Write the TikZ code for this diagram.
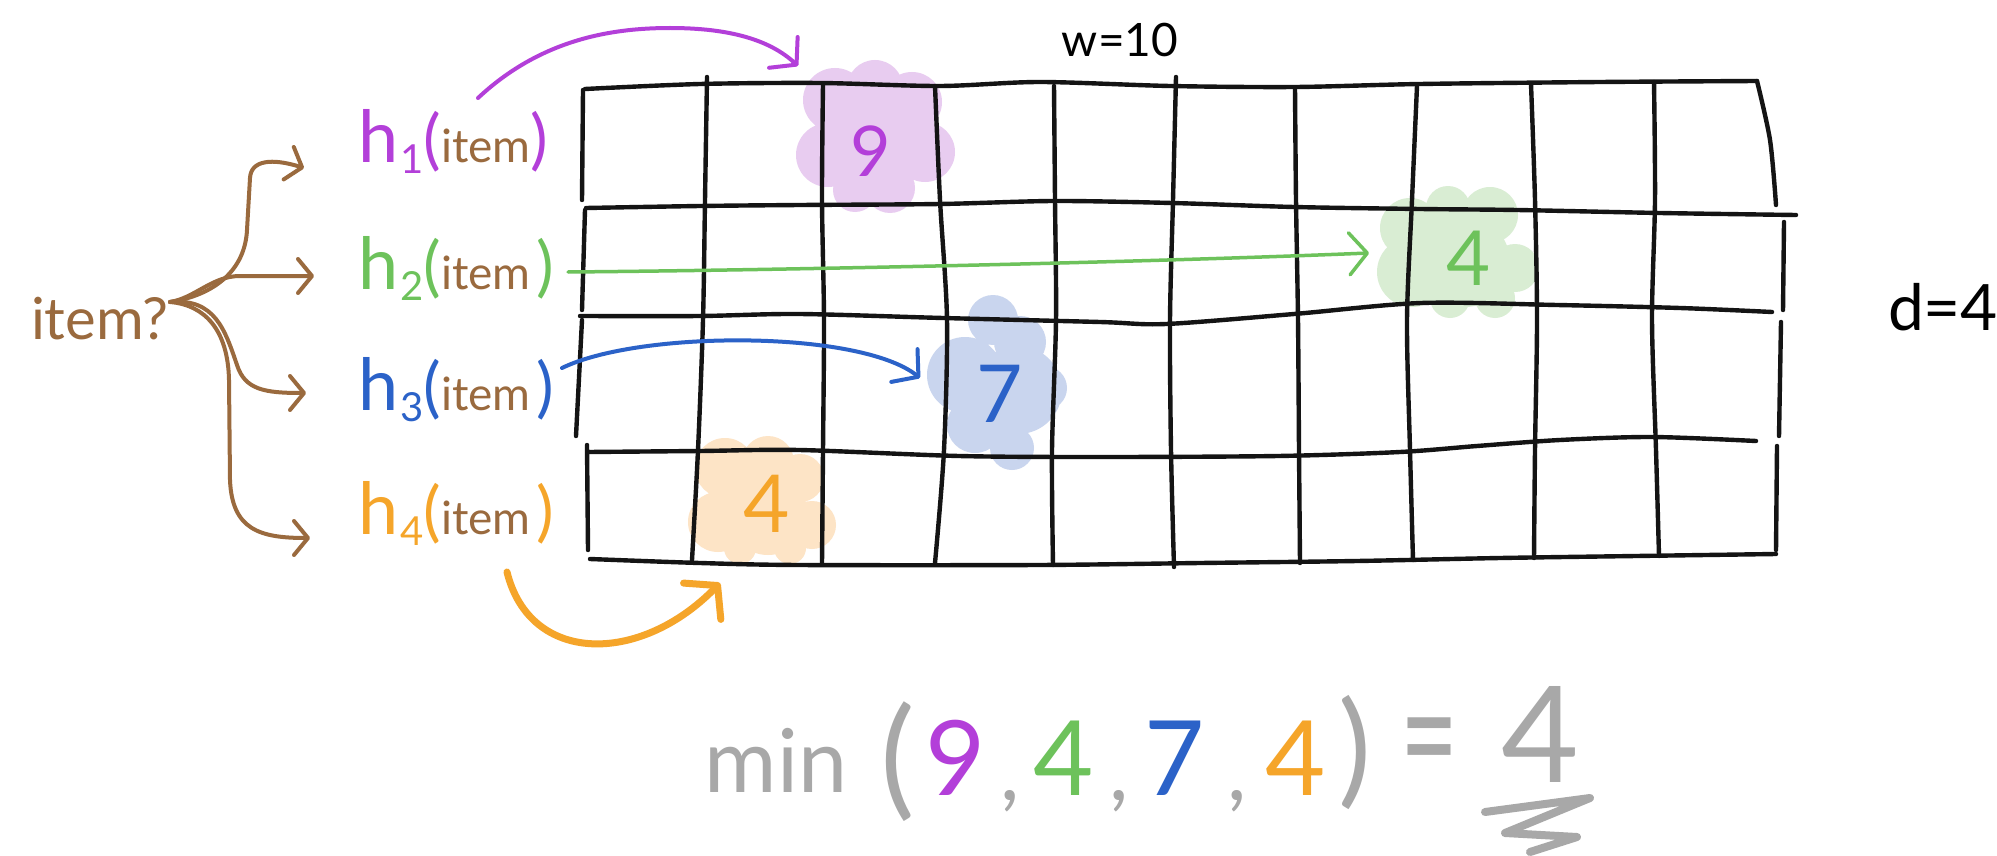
\documentclass[tikz,border=0pt]{standalone}
\usepackage{fontspec}
\setmainfont{Lato}
\usetikzlibrary{arrows.meta}
\definecolor{cpur}{HTML}{B33FD9}
\definecolor{cgrn}{HTML}{6DC25B}
\definecolor{cblu}{HTML}{2B62C8}
\definecolor{corg}{HTML}{F5A52A}
\definecolor{cbrn}{HTML}{9A6A3E}
\definecolor{cgry}{HTML}{A8A8A8}
\definecolor{bpur}{HTML}{E8CCF0}
\definecolor{bgrn}{HTML}{D9EDD3}
\definecolor{bblu}{HTML}{C9D5EE}
\definecolor{borg}{HTML}{FDE4C6}
\newcommand{\fsz}[1]{\fontsize{#1}{#1}\selectfont}
\newcommand{\hlabel}[3]{\textcolor{#1}{\fsz{72}h\hspace{2pt}\raisebox{-11pt}{\fsz{40}#2}\fsz{66}(}\textcolor{cbrn}{\fsz{46}item}#3\textcolor{#1}{\fsz{66})}}
\begin{document}
\begin{tikzpicture}[x=1pt,y=-1pt,
  gline/.style={line width=4.4pt,line cap=round,line join=round,black!92},
  txt/.style={inner sep=0pt,outer sep=0pt},
  brarrow/.style={cbrn,line width=4pt,line cap=round,line join=round,-{Straight Barb[length=14pt,width=34pt,round]}},
  colarrow/.style={line width=4pt,line cap=round,line join=round,-{Straight Barb[length=18pt,width=42pt,round]}}]
\useasboundingbox (0,0) rectangle (1997,856);
\fill[white] (0,0) rectangle (1997,856);

% blobs
\fill[bpur] (835,100) circle[radius=32] (875,88) circle[radius=28] (912,102) circle[radius=30] (828,155) circle[radius=32] (880,150) circle[radius=45] (925,152) circle[radius=30] (890,188) circle[radius=25] (855,190) circle[radius=22];
\fill[bgrn] (1410,228) circle[radius=30] (1448,208) circle[radius=22] (1490,215) circle[radius=28] (1412,272) circle[radius=35] (1465,262) circle[radius=45] (1515,268) circle[radius=24] (1450,298) circle[radius=20] (1495,298) circle[radius=20];
\fill[bblu] (993,320) circle[radius=25] (1020,342) circle[radius=26] (965,375) circle[radius=38] (1018,390) circle[radius=44] (1045,388) circle[radius=22] (975,425) circle[radius=28] (1012,448) circle[radius=22];
\fill[borg] (725,468) circle[radius=30] (768,462) circle[radius=26] (800,478) circle[radius=24] (718,522) circle[radius=30] (768,515) circle[radius=40] (812,525) circle[radius=24] (740,548) circle[radius=16] (790,548) circle[radius=16];

% grid horizontals
\draw[gline] plot[smooth] coordinates {(585,89) (700,84) (820,83) (940,86) (1040,82) (1170,86) (1295,87) (1420,84) (1600,82) (1757,81)};
\draw[gline] plot[smooth] coordinates {(586,208) (700,206) (800,205) (940,204) (1054,201) (1172,203) (1294,207) (1420,209) (1517,210) (1660,213) (1796,215)};
\draw[gline] plot[smooth] coordinates {(580,316) (700,316) (799,314) (943,318) (1100,322) (1166,324) (1294,314) (1421,303) (1557,305) (1680,308) (1772,312)};
\draw[gline] plot[smooth] coordinates {(588,452) (700,451) (799,450) (959,456) (1100,457) (1278,456) (1400,452) (1477,446) (1560,440) (1652,437) (1756,441)};
\draw[gline] plot[smooth] coordinates {(590,559) (700,563) (799,565) (1038,565) (1200,563) (1357,561) (1500,558) (1636,556) (1776,554)};
% grid verticals
\draw[gline] (583,90) -- (582,200);
\draw[gline] (585,210) -- (582,310);
\draw[gline] (582,320) -- (576,436);
\draw[gline] (587,445) -- (588,550);
\draw[gline] plot[smooth] coordinates {(707,77) (705,200) (703,320) (698,450) (692,560)};
\draw[gline] plot[smooth] coordinates {(823,84) (822,200) (824,320) (823,450) (822,563)};
\draw[gline] plot[smooth] coordinates {(935,86) (940,200) (947,320) (944,450) (935,563)};
\draw[gline] plot[smooth] coordinates {(1054,86) (1055,200) (1056,320) (1052,450) (1053,565)};
\draw[gline] plot[smooth] coordinates {(1176,77) (1173,200) (1170,320) (1171,450) (1174,567)};
\draw[gline] plot[smooth] coordinates {(1295,88) (1296,200) (1298,320) (1299,450) (1300,563)};
\draw[gline] plot[smooth] coordinates {(1417,86) (1412,200) (1407,320) (1410,450) (1413,560)};
\draw[gline] plot[smooth] coordinates {(1531,84) (1535,200) (1537,320) (1535,450) (1534,558)};
\draw[gline] plot[smooth] coordinates {(1654,82) (1655,200) (1652,320) (1656,450) (1659,556)};
\draw[gline] plot[smooth] coordinates {(1757,81) (1770,140) (1776,205)};
\draw[gline] (1784,222) -- (1783,310);
\draw[gline] (1781,322) -- (1779,436);
\draw[gline] (1777,446) -- (1776,550);

% cell values
\node[txt,text=cpur] (n9) at (871,151) {\fsz{70}9};
\node[txt,text=cgrn] (n4a) at (1469,258) {\fsz{76}4};
\node[txt,text=cblu] (n7) at (1000,394) {\fsz{80}7};
\node[txt,text=corg] (n4b) at (767,504) {\fsz{80}4};

% top/side labels
\node[txt,anchor=base] (wlab) at (1120,57) {\fsz{46}w=10};
\node[txt,anchor=base west] (dlab) at (1888,330) {\fsz{64}d=4};

% item? and hash labels
\node[txt,anchor=base west,text=cbrn] (item) at (31,339) {\fsz{58}item?};
\node[txt,anchor=base west] (h1) at (358,163) {\hlabel{cpur}{1}{}};
\node[txt,anchor=base west] (h2) at (358,289) {\hlabel{cgrn}{2}{\hspace{6pt}}};
\node[txt,anchor=base west] (h3) at (358,410) {\hlabel{cblu}{3}{\hspace{6pt}}};
\node[txt,anchor=base west] (h4) at (358,534) {\hlabel{corg}{4}{\hspace{6pt}}};

% brown branching arrows
\coordinate (src) at (170,302);
\coordinate (t1) at (304,168);
\coordinate (t2) at (314,276);
\coordinate (t3) at (306,393);
\coordinate (t4) at (310,538);
\draw[brarrow] (src) .. controls (215,295) and (245,270) .. (247,230) -- (250,178) .. controls (251,160) and (272,158) .. (t1);
\draw[brarrow] (src) .. controls (195,298) and (212,276) .. (240,276) -- (t2);
\draw[brarrow] (src) .. controls (215,298) and (225,330) .. (237,365) .. controls (245,390) and (265,393) .. (t3);
\draw[brarrow] (src) .. controls (205,305) and (228,330) .. (229,380) -- (230,480) .. controls (232,530) and (260,538) .. (t4);

% coloured arrows to cells
\coordinate (a1s) at (478,98);
\coordinate (a1e) at (798,66);
\draw[colarrow,cpur] (a1s) .. controls (540,40) and (610,28) .. (670,28) .. controls (730,28) and (770,40) .. (a1e);
\coordinate (a2s) at (568,272);
\coordinate (a2e) at (1369,253);
\draw[colarrow,cgrn,line width=3.5pt] (a2s) .. controls (800,270) and (1150,262) .. (a2e);
\coordinate (a3s) at (562,368);
\coordinate (a3e) at (920,378);
\draw[colarrow,cblu] (a3s) .. controls (640,330) and (860,330) .. (a3e);
\coordinate (a4s) at (507,572);
\coordinate (a4e) at (720,583);
\draw[corg,line width=7pt,line cap=round,line join=round,-{Straight Barb[length=22pt,width=52pt,round]}] (a4s) .. controls (530,665) and (640,665) .. (a4e);

% formula
\node[txt,anchor=base,text=cgry] (fmin) at (776,792) {\fsz{88}min};
\node[txt,text=cgry] (fpl) at (898,762) {\fsz{130}(};
\node[txt,anchor=base,text=cpur] (f9) at (956,795) {\fsz{104}9};
\node[txt,anchor=base,text=cgry] (fc1) at (1010,800) {\fsz{85},};
\node[txt,anchor=base,text=cgrn] (f4a) at (1064,795) {\fsz{104}4};
\node[txt,anchor=base,text=cgry] (fc2) at (1119,800) {\fsz{85},};
\node[txt,anchor=base,text=cblu] (f7) at (1175,795) {\fsz{104}7};
\node[txt,anchor=base,text=cgry] (fc3) at (1237,800) {\fsz{85},};
\node[txt,anchor=base,text=corg] (f4b) at (1296,795) {\fsz{104}4};
\node[txt,text=cgry] (fpr) at (1355,752) {\fsz{124})};
\node[txt,text=cgry] (feq) at (1429,754) {\scalebox{1}[1.6]{\fsz{100}=}};
\node[txt,anchor=base,text=cgry] (fres) at (1540,782) {\fsz{134}4};
\draw[cgry,line width=8pt,line cap=round,line join=round] (1485,812) -- (1590,798) -- (1505,833) -- (1577,837) -- (1530,852);
\end{tikzpicture}
\end{document}
